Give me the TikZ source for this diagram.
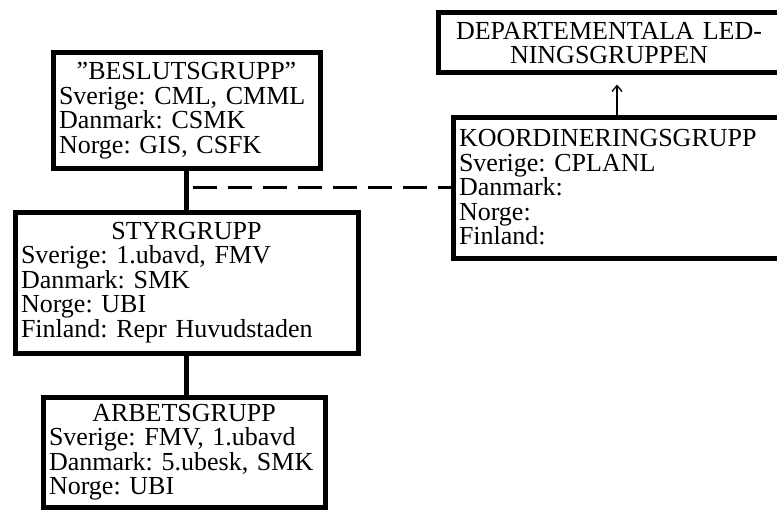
\documentclass[tikz,border=0pt]{standalone}
\usepackage{fontspec}
\setmainfont{Liberation Serif}
\usetikzlibrary{arrows.meta}
\newcommand{\grouphead}[1]{\makebox[\linewidth][c]{#1}}

\begin{document}
\begin{tikzpicture}[x=1pt,y=-1pt,
    grp/.style={draw, line width=5pt, inner xsep=6pt, inner ysep=0pt,
      align=left, font=\fontsize{26}{24.5}\selectfont\frenchspacing},
    link/.style={line width=5pt}]
  \useasboundingbox (0,0) rectangle (777,511);
  \clip (0,0) rectangle (777,511);

  \node[grp, text width=255pt, minimum height=115pt] (beslut) at (186.5,110.5)
    {\grouphead{”BESLUTSGRUPP”}\\ Sverige: CML, CMML\\ Danmark: CSMK\\ Norge: GIS, CSFK};
  \node[grp, text width=331pt, minimum height=141pt] (styr) at (186.5,282.5)
    {\grouphead{STYRGRUPP}\\ Sverige: 1.ubavd, FMV\\ Danmark: SMK\\ Norge: UBI\\
     Finland: Repr Huvudstaden};
  \node[grp, text width=270pt, minimum height=110pt] (arbets) at (184,452)
    {\grouphead{ARBETSGRUPP}\\ Sverige: FMV, 1.ubavd\\ Danmark: 5.ubesk, SMK\\ Norge: UBI};
  \node[grp, align=center, text width=330pt, minimum height=60pt] (dep) at (609,43)
    {DEPARTEMENTALA LED-\\ NINGSGRUPPEN};
  \node[grp, text width=328pt, minimum height=141pt] (koord) at (623,187.5)
    {KOORDINERINGSGRUPP\\ Sverige: CPLANL\\ Danmark:\\ Norge:\\ Finland:};

  \coordinate (tee) at (beslut.south |- koord.west);

  \draw[link] (beslut.south) -- (styr.north);
  \draw[link] (styr.south) -- (styr.south |- arbets.north);
  \draw[line width=2.5pt, dash pattern=on 24pt off 11pt, dash phase=-6pt] (tee) -- (koord.west);
  \draw[line width=1.3pt, -{Straight Barb[length=6pt,width=10pt]}, shorten >=9pt]
    ([xshift=8pt]dep.south |- koord.north) -- ([xshift=8pt]dep.south);
\end{tikzpicture}
\end{document}
